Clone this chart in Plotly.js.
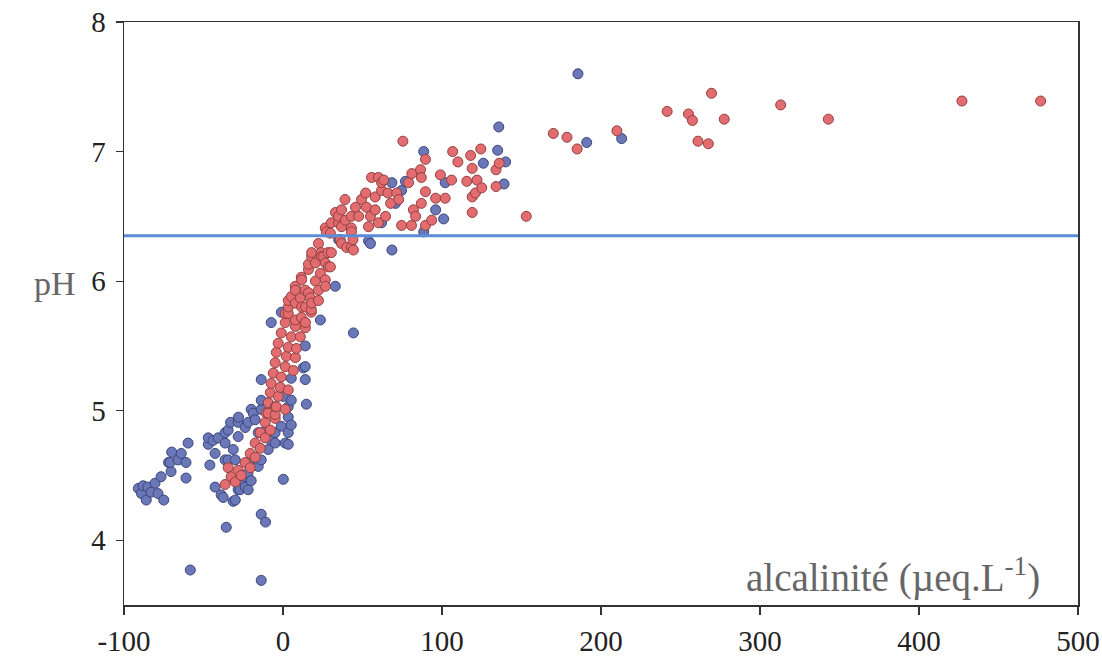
<!DOCTYPE html>
<html>
<head>
<meta charset="utf-8">
<script src="https://cdn.plot.ly/plotly-3.0.1.min.js"></script>
<style>html,body{margin:0;padding:0;background:#fff;}#chart{width:1102px;height:661px;}</style>
</head>
<body>
<div id="chart"></div>
<script>
// Blue series (alkalinity µeq/L, pH)
const blueX = [-91,-89,-88,-86,-85,-83,-80.5,-78.6,-76.7,-75,-72,-70.4,-71,-70,-66,-64,-61,-61,-59.7,-58.3,
  -47,-47,-46,-44,-42.7,-42.7,-40.8,-38.9,-37.6,-36.4,-36.4,-36.4,-35.7,-34.5,-34.5,-33,-31.3,-31.3,-30,-30,
  -28.2,-28.2,-28.2,-28,-27,-25,-23.8,-23.8,-23.1,-22,-21.9,-21.9,-20.6,-20,-20,-18.7,-17.5,-15.6,-15.6,-13.7,
  -13.7,-13.7,-13.7,-13.7,-13.7,-11,-11,-9.3,-9.3,-7.4,-7.4,-5,-4.9,-1.1,-1,0.2,0.2,1.4,3.3,3.3,
  3.3,3.3,5.2,5.2,5.2,12.8,14,14,14,14.7,23.5,32.9,35,44.3,53.8,55,62,68.5,68.5,70.7,
  74.6,77,88.5,88.5,96,101,102,126,135,135.7,139,140,185.5,191,213];
const blueY = [4.40,4.36,4.42,4.31,4.41,4.37,4.44,4.36,4.49,4.31,4.60,4.53,4.60,4.68,4.62,4.67,4.60,4.48,4.75,3.77,
  4.74,4.79,4.58,4.77,4.67,4.41,4.79,4.35,4.33,4.75,4.62,4.83,4.10,4.85,4.62,4.91,4.70,4.30,4.62,4.31,
  4.91,4.80,4.39,4.95,4.39,4.47,4.87,4.41,4.49,4.52,4.91,4.39,4.62,4.46,5.01,4.98,4.93,4.83,4.57,4.62,
  5.01,5.08,5.24,4.20,3.69,4.14,4.85,4.70,5.06,4.77,5.68,4.83,4.75,4.88,5.76,4.47,5.11,4.75,4.74,4.83,
  4.95,5.03,4.89,5.08,5.25,5.33,5.24,5.50,5.34,5.05,5.70,5.96,6.32,5.60,6.31,6.29,6.45,6.24,6.76,6.60,
  6.70,6.77,7.00,6.38,6.55,6.48,6.76,6.91,7.01,7.19,6.75,6.92,7.60,7.07,7.10];

// Red series
const redX = [-36.4,-34.5,-32.6,-30,-28.2,-26.3,-23.8,-20.6,-20.6,-17.5,-17.5,-14.3,-14.3,-11.2,-11.2,-10.5,-9.3,-8,-9.3,-8,
  -7.4,-6.1,-4.9,-4.9,-4.9,-4.9,-4.2,-4.2,-3,-3,-1.7,-1.1,-1.1,1.4,1.4,1.4,1.4,2.1,3.3,3.3,
  3.3,3.3,3.3,5.2,5.2,6.5,7.8,7.8,7.8,7.8,7.7,7.8,8.4,10.9,10.9,11.5,11.5,11.7,11.7,14,
  14.1,14.1,14.1,16,16,16,17.2,17.8,17.8,18,18,18,20.4,20.4,22.3,22.3,22.3,23.5,24,24.1,
  25.4,26.6,26.6,26.6,26.7,27.3,28.3,28.5,29.8,29.8,30.4,30.4,33,34.9,34.9,36,36.8,36.8,36.8,39,
  39.2,40,43,43,43,43,44,44.3,45.6,47.6,49.4,52,52.5,53.8,55,55.7,58,58,60,60,
  62,62,63.4,64.5,66,67.7,71.5,72.8,74.6,75.4,79,80.8,81,82,83.4,86.5,87,87,89.6,89.6,
  89.6,93.5,96,99,102,106,106.7,110,115.6,118,119,119,119,121,122,124.4,125,134,134,136,
  153,170,178.6,185,210,241.6,255,257.5,261,267.5,269.5,277.5,313,343,427,476.5];
const redY = [4.43,4.56,4.49,4.45,4.54,4.50,4.60,4.56,4.67,4.64,4.75,4.71,4.83,4.79,4.91,4.98,4.98,4.85,5.06,5.14,
  5.21,5.29,5.37,4.94,4.97,5.03,5.45,5.03,5.52,5.11,5.18,5.26,5.60,5.01,5.34,5.68,5.75,5.42,5.16,5.49,
  5.75,5.80,5.85,5.57,5.88,5.31,5.41,5.65,5.83,5.70,5.96,5.93,5.48,5.57,5.87,5.72,6.03,5.80,6.01,5.93,
  5.80,5.64,5.68,6.09,6.13,5.91,5.87,5.76,5.78,5.83,6.19,6.22,6.14,6.00,6.29,5.93,5.85,6.06,6.22,6.19,
  6.19,6.01,6.14,6.41,5.96,6.38,6.22,6.11,6.37,6.11,6.45,6.22,6.53,6.45,6.50,6.32,6.55,6.42,6.29,6.63,
  6.47,6.26,6.50,6.41,6.26,6.38,6.32,6.24,6.57,6.50,6.63,6.68,6.57,6.42,6.50,6.80,6.65,6.55,6.80,6.45,
  6.70,6.76,6.78,6.50,6.68,6.60,6.68,6.63,6.43,7.08,6.76,6.43,6.83,6.55,6.50,6.86,6.80,6.60,6.94,6.69,
  6.43,6.47,6.64,6.82,6.64,6.78,7.00,6.92,6.77,6.97,6.87,6.65,6.53,6.68,6.78,7.02,6.72,6.86,6.73,6.91,
  6.50,7.14,7.11,7.02,7.16,7.31,7.29,7.24,7.08,7.06,7.45,7.25,7.36,7.25,7.39,7.39];

const refPH = 6.35;
const xTicks = [-100, 0, 100, 200, 300, 400, 500];
const yTicks = [4, 5, 6, 7, 8];
const xLabel = 'alcalinité (µeq.L<sup>-1</sup>)';
const yLabel = 'pH';

const serif = 'Liberation Serif';

const traces = [
  {x: blueX, y: blueY, type: 'scatter', mode: 'markers', name: 'blue',
   marker: {size: 10, color: '#6a78b8', line: {color: '#3c4580', width: 1}}},
  {x: redX, y: redY, type: 'scatter', mode: 'markers', name: 'red',
   marker: {size: 10, color: '#e26c70', line: {color: '#93403f', width: 1}}}
];

const layout = {
  width: 1102, height: 661,
  margin: {l: 124, r: 24, t: 22, b: 56, pad: 0},
  paper_bgcolor: '#fff', plot_bgcolor: '#fff',
  showlegend: false,
  font: {family: serif, color: '#222', size: 28},
  xaxis: {range: [-100, 500], tickvals: xTicks, ticktext: xTicks.map(String),
    ticks: 'outside', ticklen: 8, tickcolor: '#333', tickwidth: 1.2, ticklabelstandoff: 2,
    showgrid: false, zeroline: false, showline: true, mirror: true,
    linecolor: '#333', linewidth: 1.5, tickfont: {family: serif, size: 29, color: '#222'}},
  yaxis: {range: [3.5, 8], tickvals: yTicks, ticktext: yTicks.map(String),
    ticks: 'outside', ticklen: 7, tickcolor: '#333', tickwidth: 1.2, ticklabelstandoff: 4,
    showgrid: false, zeroline: false, showline: true, mirror: true,
    linecolor: '#333', linewidth: 1.5, tickfont: {family: serif, size: 29, color: '#222'}},
  shapes: [
    {type: 'line', xref: 'paper', x0: 0, x1: 1, yref: 'y', y0: refPH, y1: refPH,
     line: {color: '#5b8dd6', width: 3}}
  ],
  annotations: [
    {text: yLabel, xref: 'paper', yref: 'paper', x: -0.072, y: 0.552,
     xanchor: 'center', yanchor: 'middle', showarrow: false,
     font: {family: serif, size: 34, color: '#666'}},
    {text: xLabel, xref: 'paper', yref: 'paper', x: 0.962, y: 0.051,
     xanchor: 'right', yanchor: 'middle', showarrow: false,
     font: {family: serif, size: 39, color: '#666'}}
  ]
};

Plotly.newPlot('chart', traces, layout, {displayModeBar: false, staticPlot: true});
</script>
</body>
</html>
